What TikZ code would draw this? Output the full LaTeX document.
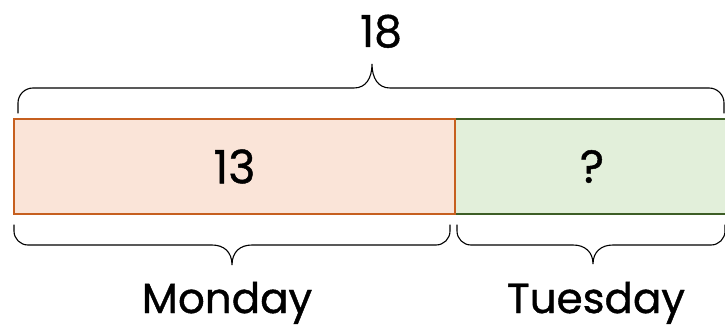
\documentclass[tikz,border=0pt]{standalone}
\usepackage{fontspec}
\setmainfont{Poppins}[FakeBold=1]
\definecolor{orfill}{HTML}{FAE4D8}
\definecolor{ordraw}{HTML}{C65F1F}
\definecolor{grfill}{HTML}{E2EFDA}
\definecolor{grdraw}{HTML}{3D5E26}
\begin{document}
\begin{tikzpicture}[x=1pt,y=-1pt,
  partbox/.style={rectangle, line width=2.4pt, minimum height=95pt, inner sep=0pt, font=\fontsize{46}{50}\selectfont},
  bracepath/.style={draw=black, line width=1.1pt, line cap=round},
  lbl/.style={font=\fontsize{42}{48}\selectfont, inner sep=0pt},
  numlbl/.style={font=\fontsize{44}{50}\selectfont, inner sep=0pt}]
\useasboundingbox (0,0) rectangle (725,331);
\clip (0,0) rectangle (725,331);
% boxes
\node[partbox, fill=grfill, draw=grdraw, minimum width=274pt] (tue) at (592,166.5) {?};
\node[partbox, fill=orfill, draw=ordraw, minimum width=441pt] (mon) at (234.5,166.5) {13};
% top brace
\coordinate (ttip) at (372,64);
\draw[bracepath] (18,113) -- (18,103) arc[start angle=180, end angle=270, radius=15] -- (354,88)
  .. controls (366,88) and (372,78) .. (ttip)
  .. controls (372,78) and (378,88) .. (390,88) -- (709,88) arc[start angle=270, end angle=360, radius=15] -- (724,113);
\node[numlbl, anchor=base] (total) at (381,47) {18};
% bottom left brace
\coordinate (mtip) at (232,265);
\draw[bracepath] (14,225) -- (14,231) arc[start angle=180, end angle=90, radius=14] -- (212,245)
  .. controls (224,245) and (232,252) .. (mtip)
  .. controls (232,252) and (240,245) .. (252,245) -- (436,245) arc[start angle=90, end angle=0, radius=14] -- (450,225);
\node[lbl, anchor=base] (monlbl) at (227,313) {Monday};
% bottom right brace
\coordinate (ttip2) at (593,264);
\draw[bracepath] (457,225) -- (457,231) arc[start angle=180, end angle=90, radius=14] -- (573,245)
  .. controls (585,245) and (593,252) .. (ttip2)
  .. controls (593,252) and (601,245) .. (613,245) -- (711,245) arc[start angle=90, end angle=0, radius=14] -- (725,231) -- (725,225);
\node[lbl, anchor=base] (tuelbl) at (596,313) {Tuesday};
\end{tikzpicture}
\end{document}
